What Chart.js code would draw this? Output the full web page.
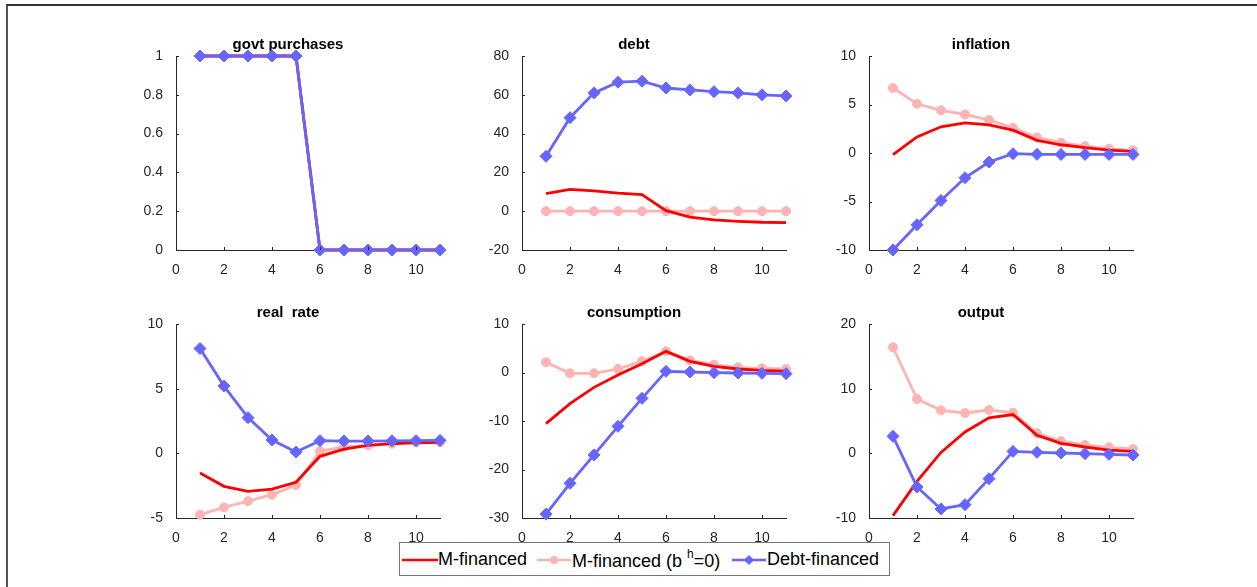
<!DOCTYPE html>
<html>
<head>
<meta charset="utf-8">
<script src="https://cdn.jsdelivr.net/npm/chart.js@4/dist/chart.umd.min.js"></script>
<style>
    html, body { margin: 0; padding: 0; background: #fff; }
    body { width: 1257px; height: 587px; position: relative; overflow: hidden; font-family: 'Liberation Sans', Arial, sans-serif; }
    .frame { position: absolute; left: 6px; top: 4px; width: 1260px; height: 600px; border-top: 2px solid #333; border-left: 2px solid #555; }
    canvas { position: absolute; }
    .legend { position: absolute; left: 399px; top: 542px; width: 489px; height: 32px; border: 1px solid #777; background: #fff; }
    .legend span.txt { position: absolute; top: 6px; font-size: 18px; color: #000; white-space: nowrap; }
    .legend sup { font-size: 12px; position: relative; top: -2px; }
    .legend svg { position: absolute; top: 9px; }
</style>
</head>
<body>
<div class="frame"></div>

<canvas id="c0"></canvas>
<canvas id="c1"></canvas>
<canvas id="c2"></canvas>
<canvas id="c3"></canvas>
<canvas id="c4"></canvas>
<canvas id="c5"></canvas>

<div class="legend">
    <svg width="38" height="16" style="left:1px"><line x1="1" y1="8" x2="37" y2="8" stroke="#ff0000" stroke-width="2.5"/></svg>
    <span class="txt" style="left:38px">M-financed</span>
    <svg width="38" height="16" style="left:136px"><line x1="1" y1="8" x2="35" y2="8" stroke="#ffb3b3" stroke-width="2.5"/><circle cx="18" cy="8" r="4" fill="#ffb3b3"/></svg>
    <span class="txt" style="left:172px">M-financed (b <sup>h</sup>=0)</span>
    <svg width="38" height="16" style="left:331px"><line x1="1" y1="8" x2="35" y2="8" stroke="#6666ff" stroke-width="2.5"/><polygon points="18,3 23,8 18,13 13,8" fill="#6666ff"/></svg>
    <span class="txt" style="left:367px">Debt-financed</span>
</div>

<script>
// Horizon (quarters)
const periods = [1, 2, 3, 4, 5, 6, 7, 8, 9, 10, 11];
const xTicks = [0, 2, 4, 6, 8, 10];

// Series: M-financed / M-financed (b^h=0) / Debt-financed
const govtM    = [1, 1, 1, 1, 1, 0, 0, 0, 0, 0, 0];
const govtMb   = [1, 1, 1, 1, 1, 0, 0, 0, 0, 0, 0];
const govtDebt = [1, 1, 1, 1, 1, 0, 0, 0, 0, 0, 0];

const debtM    = [9, 11.2, 10.5, 9.3, 8.6, 0.3, -3.1, -4.5, -5.2, -5.7, -5.9];
const debtMb   = [0, 0, 0, 0, 0, 0, 0, 0, 0, 0, 0];
const debtDebt = [28.3, 48.2, 61, 66.5, 67, 63.5, 62.5, 61.6, 61, 60, 59.4];

const inflM    = [-0.17, 1.65, 2.7, 3.1, 2.9, 2.35, 1.3, 0.85, 0.55, 0.3, 0.17];
const inflMb   = [6.7, 5.07, 4.4, 3.97, 3.4, 2.6, 1.6, 1.07, 0.7, 0.45, 0.28];
const inflDebt = [-10, -7.4, -4.9, -2.55, -0.93, -0.07, -0.14, -0.15, -0.15, -0.15, -0.15];

const rateM    = [-1.52, -2.55, -2.94, -2.76, -2.24, -0.23, 0.33, 0.62, 0.75, 0.82, 0.85];
const rateMb   = [-4.74, -4.18, -3.69, -3.2, -2.45, 0.18, 0.49, 0.62, 0.75, 0.85, 0.85];
const rateDebt = [8.1, 5.2, 2.76, 1.03, 0.1, 0.98, 0.95, 0.95, 0.97, 0.98, 1.0];

const consM    = [-10.55, -6.43, -3.06, -0.5, 1.8, 4.36, 2.3, 1.27, 0.72, 0.45, 0.3];
const consMb   = [2.1, -0.17, -0.17, 0.72, 2.3, 4.36, 2.5, 1.6, 1.07, 0.86, 0.72];
const consDebt = [-29.2, -22.85, -17, -11.1, -5.33, 0.24, 0.1, -0.03, -0.1, -0.17, -0.24];

const outM     = [-9.64, -4.33, 0.15, 3.3, 5.5, 6.0, 2.78, 1.55, 0.98, 0.5, 0.3];
const outMb    = [16.4, 8.4, 6.65, 6.24, 6.7, 6.3, 3.1, 1.9, 1.29, 0.93, 0.67];
const outDebt  = [2.63, -5.2, -8.6, -7.94, -3.92, 0.3, 0.15, 0.05, -0.05, -0.15, -0.26];

// Y tick labels per panel
const govtTicks = [0, 0.2, 0.4, 0.6, 0.8, 1];
const debtTicks = [-20, 0, 20, 40, 60, 80];
const inflTicks = [-10, -5, 0, 5, 10];
const rateTicks = [-5, 0, 5, 10];
const consTicks = [-30, -20, -10, 0, 10];
const outTicks  = [-10, 0, 10, 20];

const titles = ['govt purchases', 'debt', 'inflation', 'real  rate', 'consumption', 'output'];

const panels = [
    { m: govtM, mb: govtMb, d: govtDebt, ticks: govtTicks },
    { m: debtM, mb: debtMb, d: debtDebt, ticks: debtTicks },
    { m: inflM, mb: inflMb, d: inflDebt, ticks: inflTicks },
    { m: rateM, mb: rateMb, d: rateDebt, ticks: rateTicks },
    { m: consM, mb: consMb, d: consDebt, ticks: consTicks },
    { m: outM, mb: outMb, d: outDebt, ticks: outTicks }
];

// Plot area placement (px)
const colLeft = [176, 522, 869];
const plotWidth = 264;
const rowTop = [56, 324];
const plotHeight = 194;
const yAxisW = 40;
const titleH = 26;
const xAxisH = 26;

const RED = '#ff0000';
const PINK = '#ffb3b3';
const BLUE = '#6666ff';
const AXIS = '#262626';
const tickFont = { family: "'Liberation Sans', Arial, sans-serif", size: 14 };

Chart.defaults.font.family = "'Liberation Sans', Arial, sans-serif";
Chart.defaults.color = AXIS;

// MATLAB style inward tick marks
const innerTicks = {
    id: 'innerTicks',
    afterDraw(chart) {
        const { ctx, chartArea, scales: { x, y } } = chart;
        ctx.save();
        ctx.strokeStyle = AXIS;
        ctx.lineWidth = 1;
        ctx.beginPath();
        x.ticks.forEach(t => {
            const px = Math.round(x.getPixelForValue(t.value)) + 0.5;
            ctx.moveTo(px, chartArea.bottom);
            ctx.lineTo(px, chartArea.bottom - 3);
        });
        y.ticks.forEach(t => {
            const py = Math.round(y.getPixelForValue(t.value)) + 0.5;
            ctx.moveTo(chartArea.left, py);
            ctx.lineTo(chartArea.left + 3, py);
        });
        ctx.stroke();
        ctx.restore();
    }
};

function toPoints(values) {
    return values.map((v, i) => ({ x: periods[i], y: v }));
}

panels.forEach((p, i) => {
    const canvas = document.getElementById('c' + i);
    const col = i % 3;
    const row = Math.floor(i / 3);
    const w = yAxisW + plotWidth + yAxisW;
    const h = titleH + plotHeight + xAxisH;
    canvas.width = w;
    canvas.height = h;
    canvas.style.left = (colLeft[col] - yAxisW) + 'px';
    canvas.style.top = (rowTop[row] - titleH) + 'px';

    new Chart(canvas.getContext('2d'), {
        type: 'line',
        data: {
            datasets: [
                {
                    label: 'Debt-financed',
                    data: toPoints(p.d),
                    borderColor: BLUE,
                    backgroundColor: BLUE,
                    borderWidth: 2.8,
                    pointStyle: 'rectRot',
                    pointRadius: 6,
                    pointBorderWidth: 1,
                    order: 1,
                    clip: false
                },
                {
                    label: 'M-financed',
                    data: toPoints(p.m),
                    borderColor: RED,
                    backgroundColor: RED,
                    borderWidth: 2.8,
                    pointRadius: 0,
                    order: 2,
                    clip: false
                },
                {
                    label: 'M-financed (b h=0)',
                    data: toPoints(p.mb),
                    borderColor: PINK,
                    backgroundColor: PINK,
                    borderWidth: 2.8,
                    pointStyle: 'circle',
                    pointRadius: 4.5,
                    pointBorderWidth: 1,
                    order: 3,
                    clip: false
                }
            ]
        },
        options: {
            responsive: false,
            animation: false,
            events: [],
            layout: { padding: { left: 0, right: yAxisW, top: 0, bottom: 0 } },
            plugins: {
                legend: { display: false },
                tooltip: { enabled: false },
                title: {
                    display: true,
                    text: titles[i],
                    color: '#000',
                    font: { size: 15, weight: 'bold', lineHeight: 1 },
                    padding: { top: 7.5, bottom: titleH - 15 - 7.5 }
                }
            },
            scales: {
                x: {
                    type: 'linear',
                    min: 0,
                    max: 11,
                    grid: { display: false },
                    border: { display: true, color: AXIS, width: 1 },
                    ticks: { padding: 4, includeBounds: false, font: tickFont, color: AXIS, callback: v => String(v) },
                    afterBuildTicks: s => { s.ticks = xTicks.map(v => ({ value: v })); },
                    afterFit: s => { s.height = xAxisH; }
                },
                y: {
                    min: p.ticks[0],
                    max: p.ticks[p.ticks.length - 1],
                    grid: { display: false },
                    border: { display: true, color: AXIS, width: 1 },
                    ticks: { padding: 5, font: tickFont, color: AXIS, callback: v => String(v) },
                    afterBuildTicks: s => { s.ticks = p.ticks.map(v => ({ value: v })); },
                    afterFit: s => { s.width = yAxisW; }
                }
            }
        },
        plugins: [innerTicks]
    });
});
</script>
</body>
</html>
